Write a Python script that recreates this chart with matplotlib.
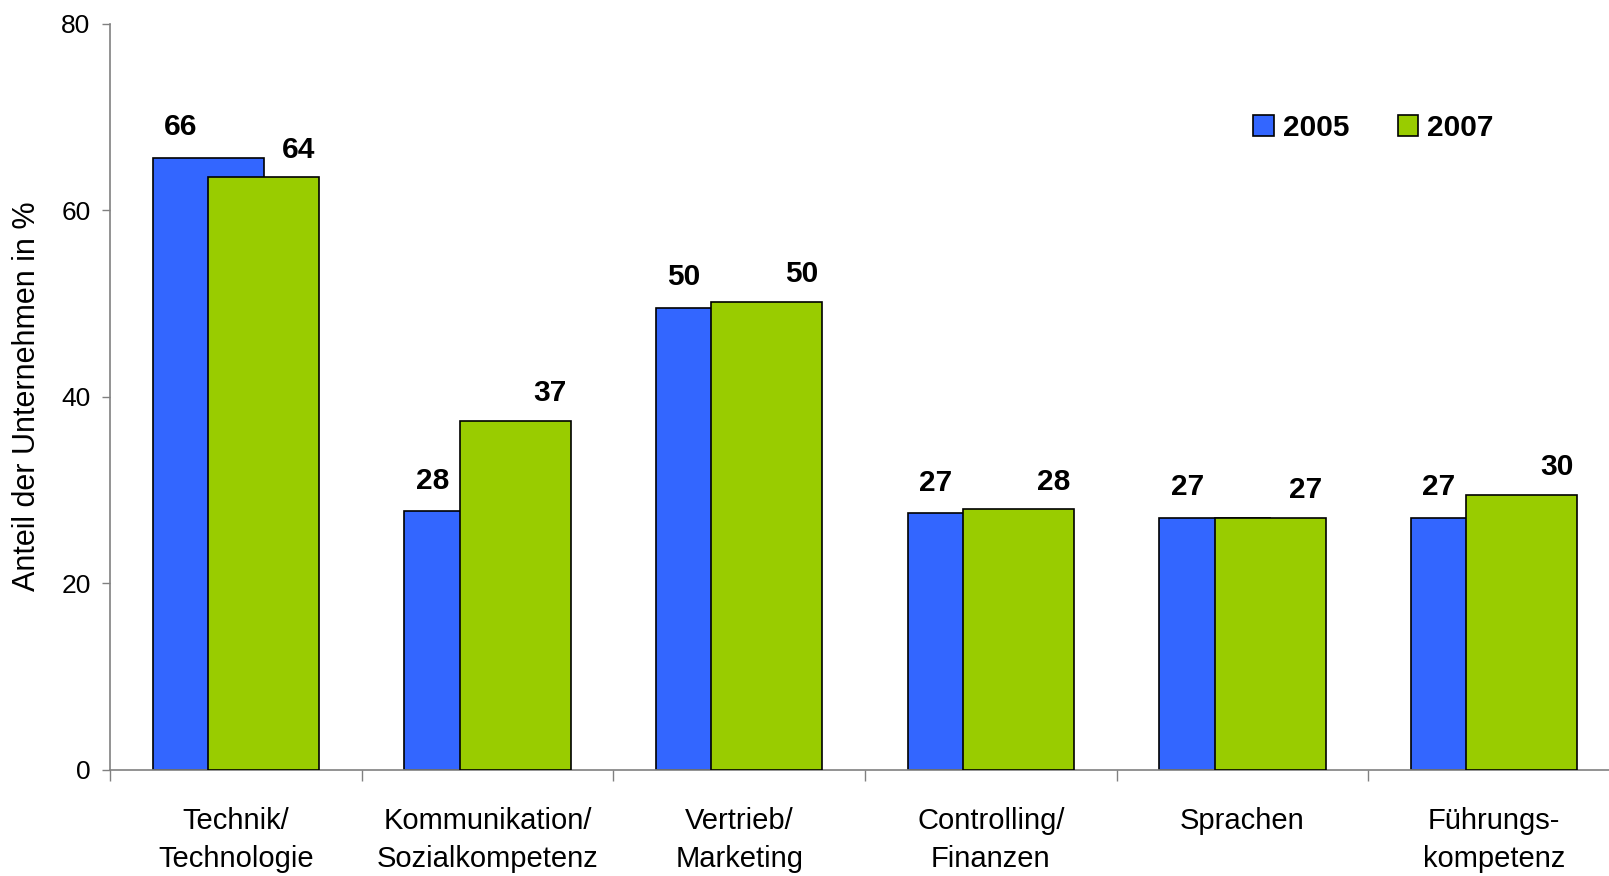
import numpy as np
import matplotlib
matplotlib.use("Agg")
import matplotlib.pyplot as plt

# ── data ──────────────────────────────────────────────────────────────────────
categories = ["Technik/\nTechnologie", "Kommunikation/\nSozialkompetenz",
              "Vertrieb/\nMarketing", "Controlling/\nFinanzen",
              "Sprachen", "Führungs-\nkompetenz"]
years = ["2005", "2007"]
vals_2005 = [65.6, 27.7, 49.5, 27.5, 27.0, 27.0]
vals_2007 = [63.5, 37.4, 50.2, 27.9, 27.0, 29.5]
labels_2005 = ["66", "28", "50", "27", "27", "27"]
labels_2007 = ["64", "37", "50", "28", "27", "30"]

plt.rcParams["font.family"] = ["Liberation Sans", "DejaVu Sans"]

BLUE = "#3366FF"
GREEN = "#99CC00"
GREY = "#808080"

fig = plt.figure(figsize=(16.09, 8.76), dpi=100)
# axis runs a bit past the right edge of the picture, like the original
ax_w_px = 1510
ax = fig.add_axes([110 / 1609, 0.1215, ax_w_px / 1609, 0.8515])

x = np.arange(len(categories))
w = 0.44
ax.bar(x - 0.11, vals_2005, width=w, color=BLUE, edgecolor="black",
       linewidth=1.2, label=years[0], zorder=2)
ax.bar(x + 0.11, vals_2007, width=w, color=GREEN, edgecolor="black",
       linewidth=1.2, label=years[1], zorder=3)

# value labels
for i in range(len(categories)):
    ax.annotate(labels_2005[i], (x[i] - 0.22, vals_2005[i]), xytext=(0, 22),
                textcoords="offset points", ha="center", va="center",
                fontsize=21.5, fontweight="bold")
    ax.annotate(labels_2007[i], (x[i] + 0.25, vals_2007[i]), xytext=(0, 20),
                textcoords="offset points", ha="center", va="center",
                fontsize=21.5, fontweight="bold")

ax.set_xlim(-0.5, len(categories) - 0.5)
ax.set_ylim(0, 80)
ax.set_yticks([0, 20, 40, 60, 80])

ax.set_xticks(x)
ax.set_xticklabels(categories, fontsize=21, linespacing=1.45)
ax.set_xticks(np.arange(len(categories) + 1) - 0.5, minor=True)
ax.tick_params(axis="x", which="major", length=0, pad=27)
ax.tick_params(axis="x", which="minor", length=8, width=1, color=GREY,
               direction="out")
ax.tick_params(axis="y", length=6, width=1, color=GREY, direction="out",
               labelsize=19, pad=8)

for s in ["top", "right"]:
    ax.spines[s].set_visible(False)
for s in ["left", "bottom"]:
    ax.spines[s].set_color(GREY)
    ax.spines[s].set_linewidth(1.2)

ax.set_ylabel("Anteil der Unternehmen in %", fontsize=22)
ax.yaxis.set_label_coords((42 - 110) / ax_w_px, 0.5)

leg = ax.legend(loc="center left", bbox_to_anchor=(0.779, 0.854),
                bbox_transform=fig.transFigure, ncol=2, frameon=False,
                prop={"size": 21.5, "weight": "bold"}, handlelength=0.7,
                handleheight=0.7, handletextpad=0.3, columnspacing=1.6,
                borderpad=0, borderaxespad=0)

fig.savefig("out.png", dpi=100)
